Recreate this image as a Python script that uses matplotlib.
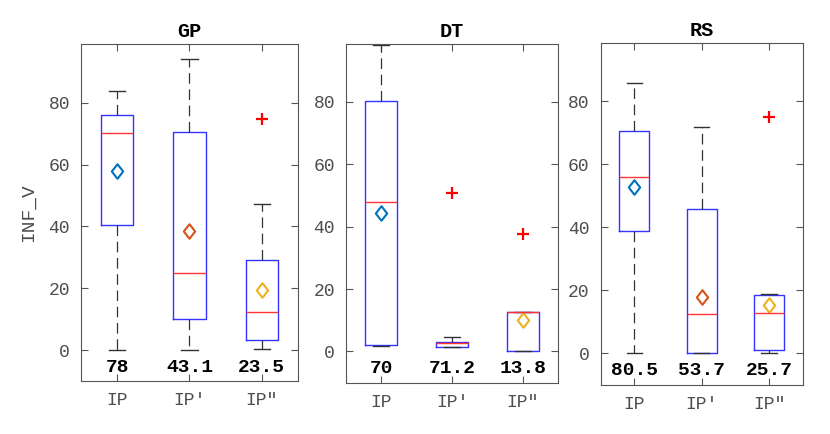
import numpy as np
import matplotlib.pyplot as plt
from matplotlib.path import Path

# ---- data ----
groups = ['IP', "IP'", 'IP"']
panel_titles = ['GP', 'DT', 'RS']

gp_whislo = [0.0, 0.0, 0.2]
gp_q1 = [40.5, 10.0, 3.4]
gp_med = [70.3, 24.9, 12.2]
gp_q3 = [76.0, 70.7, 29.1]
gp_whishi = [83.8, 94.2, 47.3]
gp_fliers = [[], [], [74.9]]
gp_means = [57.8, 38.5, 19.3]
gp_notes = ['78', '43.1', '23.5']

dt_whislo = [1.6, 1.3, 0.0]
dt_q1 = [2.0, 1.5, 0.3]
dt_med = [47.8, 2.6, 12.5]
dt_q3 = [80.1, 3.0, 12.5]
dt_whishi = [98.1, 4.6, 12.5]
dt_fliers = [[], [50.9], [37.5]]
dt_means = [44.5, np.nan, 10.0]
dt_notes = ['70', '71.2', '13.8']

rs_whislo = [0.0, 0.0, 0.0]
rs_q1 = [38.8, 0.0, 1.1]
rs_med = [55.9, 12.4, 12.8]
rs_q3 = [70.4, 45.9, 18.4]
rs_whishi = [85.6, 71.8, 18.9]
rs_fliers = [[], [], [74.8]]
rs_means = [52.8, 17.8, 15.5]
rs_notes = ['80.5', '53.7', '25.7']

mean_colors = ['#0072BD', '#D95319', '#EDB120']

panels = [
    (gp_whislo, gp_q1, gp_med, gp_q3, gp_whishi, gp_fliers, gp_means, gp_notes),
    (dt_whislo, dt_q1, dt_med, dt_q3, dt_whishi, dt_fliers, dt_means, dt_notes),
    (rs_whislo, rs_q1, rs_med, rs_q3, rs_whishi, rs_fliers, rs_means, rs_notes),
]
ylims = [(-10, 99), (-10, 98.5), (-10, 98.5)]
# axes rectangles in figure fraction
rects = [
    [0.0976, 0.1221, 0.2614, 0.7765],
    [0.4169, 0.1182, 0.2554, 0.7804],
    [0.7237, 0.1129, 0.2434, 0.7887],
]

mono = 'Liberation Mono'
tick_col = '#4d4d4d'

# matlab-like diamond (a bit wider than matplotlib's thin one)
diamond = Path([(0, 1), (0.78, 0), (0, -1), (-0.78, 0), (0, 1)],
               [Path.MOVETO, Path.LINETO, Path.LINETO, Path.LINETO, Path.CLOSEPOLY])

fig = plt.figure(figsize=(8.3, 4.34), dpi=100)

for i, (wlo, q1, med, q3, whi, fl, means, notes) in enumerate(panels):
    ax = fig.add_axes(rects[i])
    pos = np.arange(1, len(groups) + 1)
    stats = []
    for j in range(len(groups)):
        stats.append({'whislo': wlo[j], 'q1': q1[j], 'med': med[j], 'q3': q3[j],
                      'whishi': whi[j], 'fliers': fl[j]})
    ax.bxp(stats, positions=pos, widths=0.45, capwidths=0.225,
           showfliers=True, patch_artist=False,
           boxprops=dict(color='#3333ff', linewidth=1.0),
           medianprops=dict(color='#ff3333', linewidth=1.0),
           whiskerprops=dict(color='#333333', linewidth=0.9, linestyle=(0, (8.5, 4.5))),
           capprops=dict(color='#333333', linewidth=1.0),
           flierprops=dict(marker='+', markeredgecolor='red', markersize=8,
                           markeredgewidth=1.6, linestyle='none'))
    for j in range(len(groups)):
        ax.plot(pos[j], means[j], marker=diamond, markersize=10.5, markerfacecolor='none',
                markeredgecolor=mean_colors[j], markeredgewidth=1.5, linestyle='none')
        ax.text(pos[j], -5.5, notes[j], ha='center', va='center',
                fontsize=14, fontweight='bold', family=mono, color='black')

    ax.set_xlim(0.5, 3.5)
    ax.set_ylim(*ylims[i])
    ax.set_yticks([0, 20, 40, 60, 80])
    ax.set_xticks(pos)
    ax.set_xticklabels(groups)
    ax.tick_params(direction='in', length=5, width=0.8, color='#555555',
                   top=True, right=True, labelsize=13, labelcolor=tick_col, pad=8)
    for lab in ax.get_xticklabels() + ax.get_yticklabels():
        lab.set_family(mono)
    for sp in ax.spines.values():
        sp.set_color('#555555')
        sp.set_linewidth(0.8)
    ax.set_title(panel_titles[i], fontsize=14.5, fontweight='bold', family=mono, pad=5)
    if i == 0:
        ax.set_ylabel('INF_V', fontsize=14, family=mono, color=tick_col, labelpad=8)

fig.savefig('out.png', dpi=100)
